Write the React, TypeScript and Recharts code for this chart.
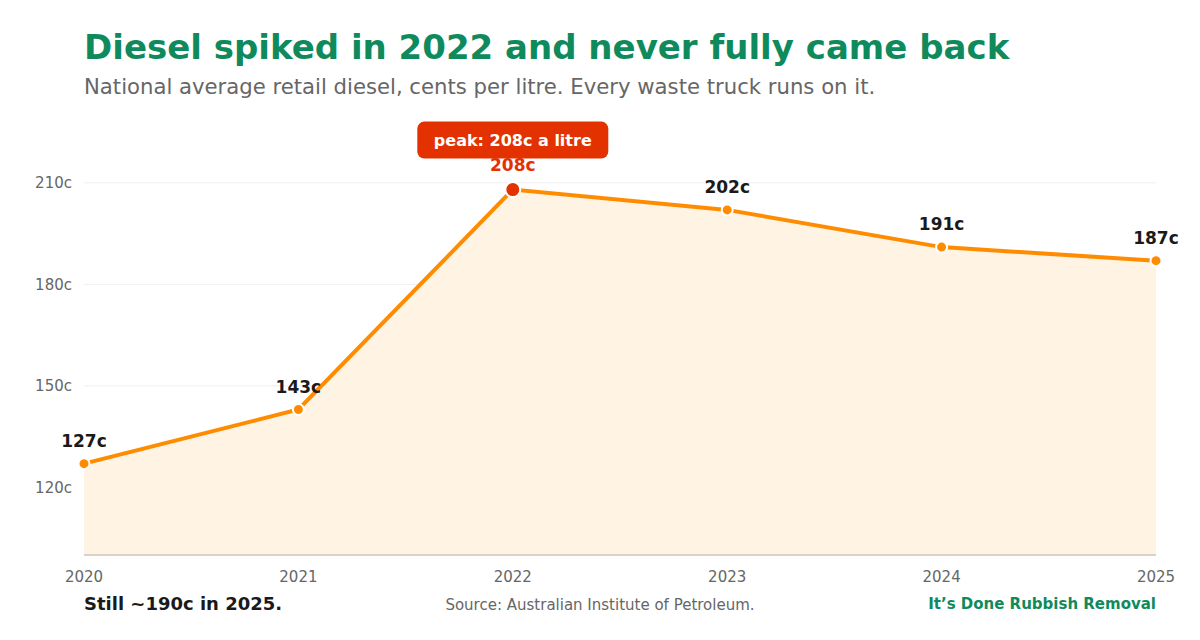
import {
  ComposedChart,
  Area,
  XAxis,
  YAxis,
  CartesianGrid,
  LabelList,
} from "recharts";

const YEARS = ["2020", "2021", "2022", "2023", "2024", "2025"];
const PRICES = [127, 143, 208, 202, 191, 187];
const Y_TICKS = [120, 150, 180, 210];

const FONT = "'DejaVu Sans', Verdana, sans-serif";
const GREEN = "#0f8a5c";
const ORANGE = "#ff8c00";
const RED = "#e33200";
const FILL = "#fff3e4";

const data = YEARS.map((year, i) => ({ year, price: PRICES[i] }));
const peakIndex = PRICES.indexOf(Math.max(...PRICES));

function renderDot(props: any) {
  const { cx, cy, index } = props;
  const peak = index === peakIndex;
  return (
    <circle
      key={`dot-${index}`}
      cx={cx}
      cy={cy}
      r={peak ? 7.5 : 5.5}
      fill={peak ? RED : ORANGE}
      stroke="#fff"
      strokeWidth={2}
    />
  );
}

function renderLabel(props: any) {
  const { x, y, value, index } = props;
  const peak = index === peakIndex;
  if (!peak) {
    return (
      <text
        key={`lbl-${index}`}
        x={x}
        y={y - 17}
        textAnchor="middle"
        fontFamily={FONT}
        fontSize={17}
        fontWeight="bold"
        fill="#1a1a1a"
      >
        {`${value}c`}
      </text>
    );
  }
  // peak gets the red callout above its value
  return (
    <g key={`lbl-${index}`}>
      <rect x={x - 95.5} y={y - 68} width={191} height={37} rx={7} fill={RED} />
      <text
        x={x}
        y={y - 44}
        textAnchor="middle"
        fontFamily={FONT}
        fontSize={16}
        fontWeight="bold"
        fill="#fff"
      >
        {`peak: ${value}c a litre`}
      </text>
      <text
        x={x}
        y={y - 19}
        textAnchor="middle"
        fontFamily={FONT}
        fontSize={17}
        fontWeight="bold"
        fill={RED}
      >
        {`${value}c`}
      </text>
    </g>
  );
}

export default function App() {
  return (
    <div
      style={{
        position: "absolute",
        left: 0,
        top: 0,
        width: 1200,
        height: 640,
        background: "#fff",
        fontFamily: FONT,
      }}
    >
      <div
        style={{
          position: "absolute",
          left: 84,
          top: 27,
          fontSize: 34,
          fontWeight: "bold",
          color: GREEN,
          whiteSpace: "nowrap",
        }}
      >
        Diesel spiked in 2022 and never fully came back
      </div>
      <div
        style={{
          position: "absolute",
          left: 84,
          top: 74,
          fontSize: 21.2,
          color: "#666",
          whiteSpace: "nowrap",
        }}
      >
        National average retail diesel, cents per litre. Every waste truck runs on it.
      </div>

      <div style={{ position: "absolute", left: 0, top: 0 }}>
        <ComposedChart
          width={1200}
          height={640}
          data={data}
          margin={{ top: 149, right: 44, bottom: 55, left: 0 }}
        >
          <CartesianGrid
            stroke="#efefef"
            vertical={false}
            horizontalValues={Y_TICKS}
          />
          <XAxis
            dataKey="year"
            height={30}
            tickLine={false}
            tickSize={0}
            tickMargin={16}
            axisLine={{ stroke: "#d8d2ca", strokeWidth: 2 }}
            tick={{ fontSize: 15, fill: "#666", fontFamily: FONT }}
            interval={0}
          />
          <YAxis
            width={84}
            domain={[100, 220]}
            ticks={Y_TICKS}
            tickFormatter={(v) => `${v}c`}
            axisLine={false}
            tickLine={false}
            tickSize={0}
            tickMargin={12}
            tick={{ fontSize: 15, fill: "#666", fontFamily: FONT }}
          />
          <Area
            type="linear"
            dataKey="price"
            stroke={ORANGE}
            strokeWidth={4}
            fill={FILL}
            fillOpacity={1}
            dot={renderDot}
            activeDot={false}
            isAnimationActive={false}
          >
            <LabelList dataKey="price" content={renderLabel} />
          </Area>
        </ComposedChart>
      </div>

      <div
        style={{
          position: "absolute",
          left: 84,
          top: 593,
          fontSize: 18,
          fontWeight: "bold",
          color: "#1a1a1a",
          whiteSpace: "nowrap",
        }}
      >
        Still ~190c in 2025.
      </div>
      <div
        style={{
          position: "absolute",
          left: 400,
          width: 400,
          top: 596,
          fontSize: 15,
          color: "#666",
          textAlign: "center",
        }}
      >
        Source: Australian Institute of Petroleum.
      </div>
      <div
        style={{
          position: "absolute",
          right: 44,
          top: 595,
          fontSize: 15,
          fontWeight: "bold",
          color: GREEN,
          whiteSpace: "nowrap",
        }}
      >
        It’s Done Rubbish Removal
      </div>
    </div>
  );
}
